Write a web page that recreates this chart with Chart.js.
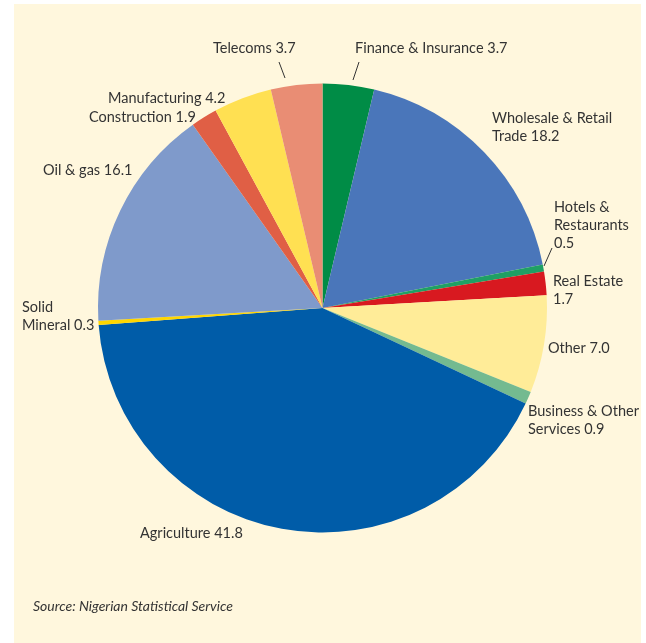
<!DOCTYPE html>
<html>
<head>
<meta charset="utf-8">
<script src="https://cdn.jsdelivr.net/npm/chart.js@4.4.1/dist/chart.umd.min.js"></script>
<style>
  html, body { margin: 0; padding: 0; background: #ffffff; }
  #wrap { position: relative; width: 646px; height: 643px; overflow: hidden; }
  #panel { position: absolute; left: 14px; top: 4px; width: 627px; height: 639px; background: #fff7dd; }
  #c { position: absolute; left: 0; top: 0; }
</style>
</head>
<body>
<div id="wrap">
  <div id="panel"></div>
  <canvas id="c" width="646" height="643"></canvas>
</div>
<script>
// ---- data (clockwise from 12 o'clock) ----
const categories = [
  "Finance & Insurance", "Wholesale & Retail Trade", "Hotels & Restaurants", "Real Estate",
  "Other", "Business & Other Services", "Agriculture", "Solid Mineral",
  "Oil & gas", "Construction", "Manufacturing", "Telecoms"
];
const values = [3.7, 18.2, 0.5, 1.7, 7.0, 0.9, 41.8, 0.3, 16.1, 1.9, 4.2, 3.7];
const colors = [
  "#008c46", "#4a76ba", "#1fa064", "#d81920",
  "#ffec98", "#74ba90", "#005ca8", "#ffd600",
  "#7f9acb", "#e05f45", "#ffe052", "#e98d74"
];
// label text lines; {v} is replaced by the value
const labelLines = [
  ["Finance & Insurance {v}"],
  ["Wholesale & Retail", "Trade {v}"],
  ["Hotels &", "Restaurants", "{v}"],
  ["Real Estate", "{v}"],
  ["Other {v}"],
  ["Business & Other", "Services {v}"],
  ["Agriculture {v}"],
  ["Solid", "Mineral {v}"],
  ["Oil & gas {v}"],
  ["Construction {v}"],
  ["Manufacturing {v}"],
  ["Telecoms {v}"]
];
const sourceText = "Source: Nigerian Statistical Service";

// ---- layout of the text (not data) ----
const labelPos = [
  {x: 355, y: 48}, {x: 492, y: 118}, {x: 554, y: 207}, {x: 553, y: 281},
  {x: 548, y: 348}, {x: 528, y: 411}, {x: 140, y: 533}, {x: 22, y: 307},
  {x: 43, y: 170}, {x: 89, y: 117}, {x: 108, y: 98}, {x: 213, y: 48}
];
const leaders = [
  {i: 0, from: [359, 62], to: [353, 80]},
  {i: 2, from: [552, 248], to: [544, 266]},
  {i: 11, from: [279, 62], to: [285, 78]}
];

const FONT = '14.5px Lato, "Noto Sans", sans-serif';
const LINE_H = 18;

const labelPlugin = {
  id: 'labels',
  afterDraw(chart) {
    const ctx = chart.ctx;
    ctx.save();
    ctx.fillStyle = '#333333';
    ctx.font = FONT;
    ctx.textAlign = 'left';
    ctx.textBaseline = 'middle';
    labelLines.forEach((lines, i) => {
      const p = labelPos[i];
      lines.forEach((ln, k) => {
        ctx.fillText(ln.replace('{v}', values[i].toFixed(1)), p.x, p.y + k * LINE_H);
      });
    });
    ctx.strokeStyle = '#333333';
    ctx.lineWidth = 1;
    leaders.forEach(l => {
      ctx.beginPath();
      ctx.moveTo(l.from[0], l.from[1]);
      ctx.lineTo(l.to[0], l.to[1]);
      ctx.stroke();
    });
    ctx.font = 'italic 14px Lato, "Noto Sans", sans-serif';
    ctx.fillText(sourceText, 33, 606);
    ctx.restore();
  }
};

new Chart(document.getElementById('c'), {
  type: 'pie',
  data: {
    labels: categories,
    datasets: [{
      data: values,
      backgroundColor: colors,
      borderWidth: 0
    }]
  },
  options: {
    responsive: false,
    animation: false,
    layout: { padding: { left: 98, right: 99, top: 83.5, bottom: 110.5 } },
    plugins: { legend: { display: false }, tooltip: { enabled: false } }
  },
  plugins: [labelPlugin]
});
</script>
</body>
</html>
